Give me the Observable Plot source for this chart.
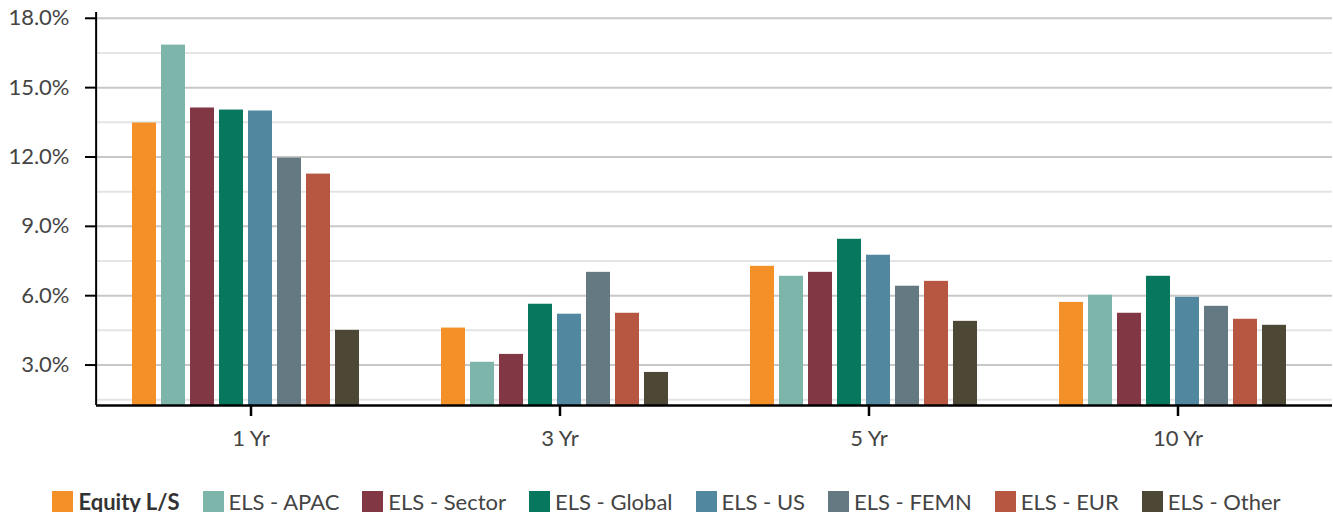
<!DOCTYPE html>
<html><head><meta charset="utf-8">
<script src="https://cdn.jsdelivr.net/npm/d3@7"></script>
<script src="https://cdn.jsdelivr.net/npm/@observablehq/plot@0.6"></script>
<style>
body{margin:0;background:#fff;font-family:Lato,"Open Sans",sans-serif;}
#chart svg{display:block;}
#legend{display:flex;justify-content:center;align-items:center;height:22px;font-size:22px;line-height:21px;color:#444;white-space:nowrap;}
.item{display:flex;align-items:center;margin:0 11.5px;}
.sw{width:21px;height:21px;margin-right:5px;flex:none;}
.item.bold{font-weight:700;color:#333;}
</style></head><body><div id="chart"></div><div id="legend"></div>
<script>
const periods = ["1 Yr", "3 Yr", "5 Yr", "10 Yr"];
const series = ["Equity L/S", "ELS - APAC", "ELS - Sector", "ELS - Global", "ELS - US", "ELS - FEMN", "ELS - EUR", "ELS - Other"];
const colors = ["#F39128", "#7DB5AA", "#823745", "#07775E", "#52889F", "#647981", "#B85741", "#4D4835"];
const equityLS   = [13.47, 4.60, 7.27, 5.71];
const elsAPAC    = [16.84, 3.12, 6.84, 6.02];
const elsSector  = [14.12, 3.46, 7.01, 5.24];
const elsGlobal  = [14.03, 5.63, 8.44, 6.84];
const elsUS      = [13.99, 5.20, 7.75, 5.93];
const elsFEMN    = [11.95, 7.01, 6.41, 5.54];
const elsEUR     = [11.26, 5.24, 6.62, 4.98];
const elsOther   = [4.50, 2.68, 4.89, 4.72];
const majorTicks = [3, 6, 9, 12, 15, 18];
const minorTicks = [1.5, 4.5, 7.5, 10.5, 13.5, 16.5];
const yDomain = [1.25, 18.25];

const seriesValues = [equityLS, elsAPAC, elsSector, elsGlobal, elsUS, elsFEMN, elsEUR, elsOther];
const data = [];
series.forEach((s, i) => periods.forEach((p, j) => data.push({series: s, period: p, value: seriesValues[i][j]})));

const W = 1333, ML = 94, MR = 0;
const facetWidth = (W - ML - MR) / periods.length;

const chart = Plot.plot({
  width: W, height: 490,
  marginLeft: ML, marginRight: MR, marginTop: 12, marginBottom: 85,
  style: {fontFamily: "Lato, 'Open Sans', sans-serif", fontSize: "22px", color: "#444", background: "#fff"},
  fx: {domain: periods, padding: 0, label: null},
  x: {domain: series, axis: null, paddingInner: 0.18, paddingOuter: 1.38, align: 0.435},
  y: {domain: yDomain, label: null},
  color: {domain: series, range: colors},
  marks: [
    Plot.gridY(minorTicks, {stroke: "#e4e4e4", strokeOpacity: 1, strokeWidth: 2}),
    Plot.gridY(majorTicks, {stroke: "#c8c8c8", strokeOpacity: 1, strokeWidth: 2}),
    Plot.barY(data, {fx: "period", x: "series", y1: () => yDomain[0], y2: "value", fill: "series"}),
    Plot.axisY(majorTicks, {anchor: "left", facetAnchor: "left", tickSize: 11, tickPadding: 16, tickFormat: d => d.toFixed(1) + "%", color: "#000", stroke: "#000", strokeOpacity: 1, strokeWidth: 2, fill: "#444", label: null}),
    Plot.ruleX([yDomain], {x: null, y1: d => d[0], y2: d => d[1], dx: -facetWidth / 2, facetAnchor: "left", stroke: "#000", strokeWidth: 2}),
    Plot.axisFx({anchor: "bottom", tickSize: 11, tickPadding: 14, stroke: "#000", strokeWidth: 2.5, fill: "#444", label: null}),
    Plot.ruleY([yDomain[0]], {stroke: "#000", strokeWidth: 2.5})
  ]
});
document.getElementById("chart").appendChild(chart);

const legend = document.getElementById("legend");
series.forEach((s, i) => {
  const item = document.createElement("div");
  item.className = "item" + (i === 0 ? " bold" : "");
  const sw = document.createElement("span");
  sw.className = "sw";
  sw.style.background = colors[i];
  const t = document.createElement("span");
  t.textContent = s;
  item.appendChild(sw);
  item.appendChild(t);
  legend.appendChild(item);
});
</script>
</body></html>
